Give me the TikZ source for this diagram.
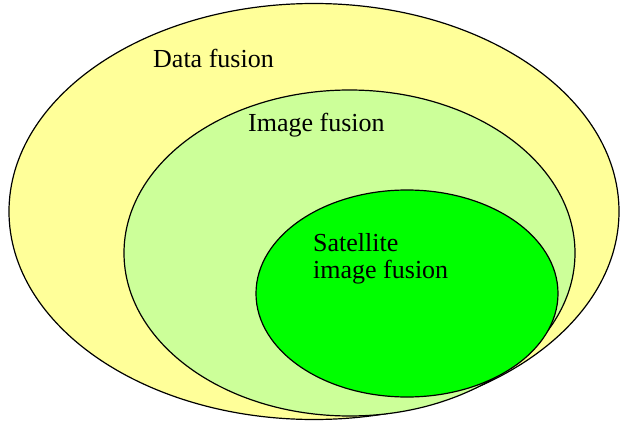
\documentclass[tikz,border=0pt]{standalone}
\usepackage{fontspec}
\setmainfont{Liberation Serif}
\usepackage{xcolor}
\definecolor{datayellow}{HTML}{FFFF99}
\definecolor{imagegreen}{HTML}{CCFF99}
\definecolor{satgreen}{HTML}{00FF00}
\begin{document}
\begin{tikzpicture}[x=1pt,y=-1pt,
    label/.style={anchor=base west,inner sep=0pt,font=\fontsize{26}{28}\selectfont,align=left}]
                    \useasboundingbox (0,0) rectangle (622,423);
                    \draw[line width=1.2pt,fill=datayellow] (314,211.5) ellipse (305 and 208);
                    \draw[line width=1.2pt,fill=imagegreen] (349.5,253) ellipse (225.5 and 163);
                    \draw[line width=1.2pt,fill=satgreen] (407,293.5) ellipse (151 and 103.5);
                    \node[label] (data) at (153,67) {Data fusion};
                    \node[label] (image) at (248,131) {Image fusion};
                    \node[label] (sat) at (313,251) {Satellite};
                    \node[label] (satimg) at (313,278) {image fusion};
                \end{tikzpicture}
\end{document}
